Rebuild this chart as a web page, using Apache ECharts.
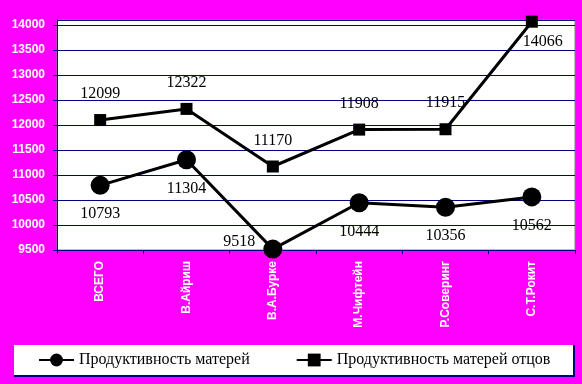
<!DOCTYPE html>
<html><head><meta charset="utf-8">
<script src="https://cdn.jsdelivr.net/npm/echarts@6/dist/echarts.min.js"></script>
<style>html,body{margin:0;padding:0;background:#ff00ff}#c{width:582px;height:384px}</style>
</head><body><div id="c"></div>
<script>
const categories = ['ВСЕГО', 'В.Айриш', 'В.А.Бурке', 'М.Чифтейн', 'Р.Соверинг', 'С.Т.Рокит'];
const mothers = [10793, 11304, 9518, 10444, 10356, 10562];
const mothersFathers = [12099, 12322, 11170, 11908, 11915, 14066];
const seriesNames = ['Продуктивность матерей', 'Продуктивность матерей отцов'];
const yMin = 9500, yMax = 14100, yStep = 500;

const NAVY = '#000080';
const labelFont = { fontFamily: 'Liberation Serif', fontSize: 16, color: '#000' };

// per-point label placement overrides (style only)
const motherLabelOverride = { 2: { position: 'left', distance: 8, offset: [0, -7] } };
const fatherLabelOverride = { 5: { position: 'bottom', distance: 6, offset: [11, 0] } };

function build(values, overrides) {
  return values.map((v, i) => overrides[i] ? { value: v, label: overrides[i] } : v);
}

const chart = echarts.init(document.getElementById('c'), null, { renderer: 'canvas' });
chart.setOption({
  backgroundColor: '#ff00ff',
  animation: false,
  grid: { left: 57, right: 7, top: 20, bottom: 134, show: true, backgroundColor: '#fff', borderColor: '#808080', borderWidth: 1 },
  graphic: [
    { type: 'rect', left: 14, top: 345, shape: { width: 561, height: 32 }, style: { fill: NAVY }, z: -1 },
    { type: 'rect', left: 14, top: 345, shape: { width: 559, height: 30 }, style: { fill: '#fff' }, z: 0 }
  ],
  legend: {
    left: 38, top: 352, padding: 0, itemWidth: 35, itemHeight: 16, itemGap: 46, z: 10,
    textStyle: { fontFamily: 'Liberation Serif', fontSize: 16, color: '#000' },
    data: seriesNames
  },
  xAxis: {
    type: 'category', data: categories, boundaryGap: true,
    axisLine: { lineStyle: { color: NAVY, width: 1 } },
    axisTick: { show: true, length: 4, lineStyle: { color: NAVY } },
    axisLabel: { rotate: 90, margin: 11, color: '#fff', fontFamily: 'Liberation Sans', fontWeight: 'bold', fontSize: 12, interval: 0 }
  },
  yAxis: {
    type: 'value', min: yMin, max: yMax, interval: yStep,
    axisLine: { show: true, lineStyle: { color: NAVY, width: 1 } },
    axisTick: { show: true, length: 4, lineStyle: { color: NAVY } },
    splitLine: { show: true, lineStyle: { color: NAVY, width: 1 } },
    axisLabel: { showMaxLabel: false, margin: 12, color: '#fff', fontFamily: 'Liberation Sans', fontWeight: 'bold', fontSize: 12, formatter: v => String(v) }
  },
  series: [
    {
      name: seriesNames[0], type: 'line', data: build(mothers, motherLabelOverride),
      symbol: 'circle', symbolSize: 19, lineStyle: { color: '#000', width: 3 }, itemStyle: { color: '#000' },
      label: Object.assign({ show: true, position: 'bottom', distance: 11 }, labelFont)
    },
    {
      name: seriesNames[1], type: 'line', data: build(mothersFathers, fatherLabelOverride),
      symbol: 'rect', symbolSize: 12, lineStyle: { color: '#000', width: 3 }, itemStyle: { color: '#000' },
      label: Object.assign({ show: true, position: 'top', distance: 12 }, labelFont)
    }
  ]
});
</script></body></html>
